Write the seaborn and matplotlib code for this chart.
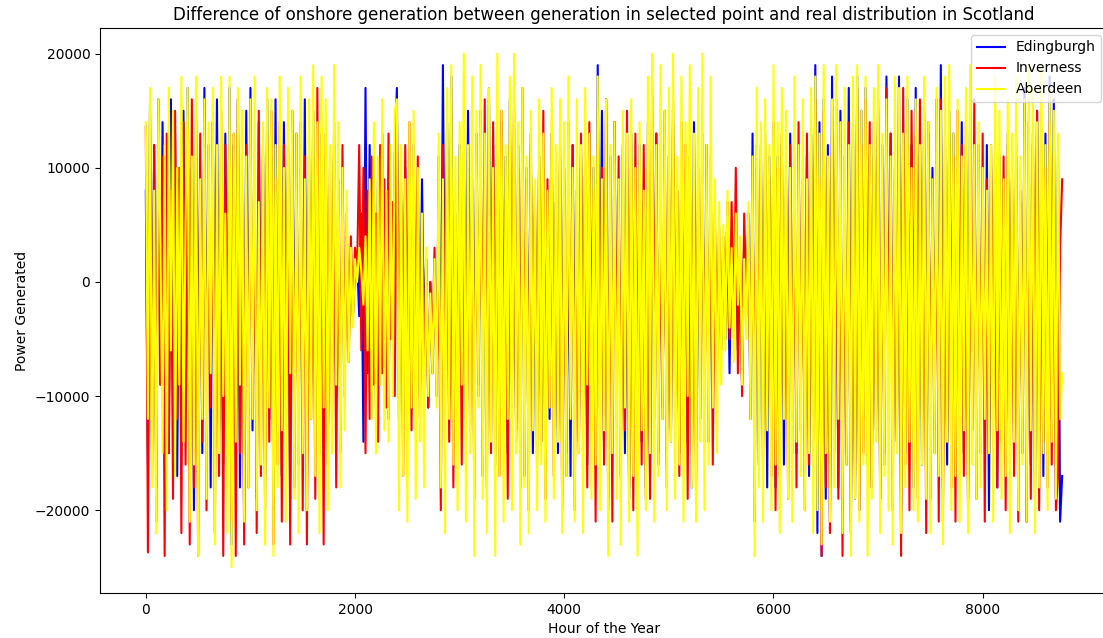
import numpy as np
import pandas as pd
import matplotlib
matplotlib.use("Agg")
import matplotlib.pyplot as plt
import seaborn as sns

# Hour of the year sampled every 20 h (0 .. 8760)
hours = list(range(0, 8761, 20))

# Values in thousands of units
aberdeen_k = [
    14, -12, 17, -18, 8, -22, 16, 3, -15, 12, -20, 17, -6, 15, -17, 10, -9, 18, -14, 5,
    17, -21, 11, -16, 18, -24, 9, -12, 16, -19, 14, -8, 17, -23, 12, -15, 18, -10, 6, -22,
    18, -25, 13, -14, 17, -9, 15, -21, 11, -18, 16, -12, 18, -20, 7, -16, 14, -23, 17, -11,
    16, -24, 12, -18, 18, -13, 10, -21, 17, -8, 15, -19, 13, -22, 18, -15, 9, -20, 16, -12,
    19, -17, 14, -22, 18, -11, 16, -20, 12, -15, 19, -9, 14, -18, 10, -13, 8, -7, 3, -4,
    2, 0, 3, 1, -2, 4, -6, 9, -12, 14, -15, 11, -9, 16, -13, 8, -14, 12, -10, 15,
    16, -20, 12, -17, 9, -21, 14, -11, 15, -19, 10, -14, 6, -18, 3, -10, -1, -8, 2, -11,
    13, -18, 9, -22, 17, -12, 19, -16, 11, -20, 14, -9, 20, -21, 12, -15, 18, -24, 15, -11,
    19, -19, 13, -22, 17, -14, 10, -24, 20, -17, 15, -21, 12, -12, 18, -20, 20, -15, 14, -23,
    17, -18, 11, -22, 15, -13, 9, -20, 16, -16, 13, -21, 8, -11, 17, -19, 12, -14, 16, -22,
    14, -17, 18, -12, 10, -21, 16, -15, 12, -22, 17, -9, 13, -19, 11, -16, 18, -20, 9, -13,
    16, -24, 12, -15, 14, -19, 9, -23, 15, -11, 13, -21, 16, -17, 10, -24, 14, -13, 8, -20,
    18, -15, 20, -21, 12, -17, 19, -12, 15, -20, 17, -14, 20, -19, 11, -16, 18, -21, 14, -10,
    19, -18, 13, -21, 17, -14, 20, -20, 12, -16, 18, -11, 9, -15, 7, -9, 5, -6, 8, -4,
    3, -7, 6, -2, 4, -9, 2, -5, 7, -12, 11, -24, 17, -18, 14, -21, 16, -13, 12, -20,
    19, -16, 14, -22, 17, -12, 15, -19, 10, -21, 18, -14, 12, -17, 16, -20, 9, -15, 17, -22,
    18, -20, 13, -23, 19, -15, 11, -21, 16, -18, 19, -12, 14, -22, 17, -16, 12, -24, 18, -19,
    19, -21, 15, -16, 18, -24, 12, -19, 17, -14, 19, -22, 13, -17, 16, -20, 11, -23, 18, -15,
    17, -22, 13, -18, 18, -14, 10, -20, 16, -21, 12, -16, 18, -19, 14, -22, 9, -15, 17, -17,
    15, -23, 18, -14, 19, -20, 13, -17, 16, -21, 11, -13, 17, -22, 19, -16, 12, -19, 14, -18,
    10, -12, 8, -15, 12, -21, 18, -13, 15, -19, 9, -17, 16, -22, 13, -14, 18, -20, 11, -16,
    16, -21, 19, -13, 17, -22, 14, -18, 19, -15, 12, -20, 17, -14, 15, -19, 13, -12, -8,
]
inverness_k = [
    13.6, -23.7, 10, -17, 12, -21, 14, -9, 11, -24, 13, -15, 8, -19, 15, -12, 10, -22, 14, -16,
    12, -23, 16, -18, 9, -24, 13, -14, 16, -20, 8, -11, 14, -22, 10, -17, 15, -24, 12, -13,
    10, -21, 13, -24, 16, -15, 7, -23, 12, -18, 14, -10, 9, -22, 15, -17, 11, -20, 13, -14,
    15, -23, 9, -16, 14, -21, 12, -11, 10, -23, 13, -18, 8, -15, 14, -20, 11, -23, 9, -12,
    11, -19, 17, -14, 9, -23, 13, -16, 10, -12, 14, -18, 8, -15, 12, -10, 6, -7, 4, -3,
    3, 1, 12, -6, 10, -15, 8, -12, 11, -9, 6, -14, 12, -8, 9, -11, 13, -5, 7, -10,
    15, -10, 9, -17, 12, -7, 14, -13, 8, -5, 11, -12, 4, -9, 2, -11, 0, -6, 3, -9,
    3, -20, 12, -9, 10, -14, 7, -18, 5, -12, 9, -16, 11, -7, 6, -13, 8, -19, 12, -10,
    13, -10, 16, -18, 9, -15, 14, -8, 11, -17, 15, -12, 7, -19, 12, -9, 16, -14, 10, -18,
    17, -12, 10, -20, 13, -9, 8, -16, 11, -14, 15, -19, 9, -11, 13, -17, 7, -13, 12, -20,
    9, -17, 14, -11, 12, -20, 6, -15, 13, -10, 11, -18, 14, -13, 8, -21, 12, -9, 10, -16,
    16, -19, 8, -21, 14, -12, 11, -17, 6, -13, 15, -18, 10, -20, 13, -11, 7, -16, 12, -19,
    10, -19, 17, -8, 13, -16, 9, -12, 15, -18, 11, -14, 16, -10, 8, -17, 14, -13, 12, -19,
    11, -15, 8, -18, 10, -7, 13, -14, 9, -12, 11, -16, 6, -8, 5, -6, 4, -3, 7, -5,
    7, -4, 10, -8, 3, -10, 6, -2, 5, -9, 8, -14, 12, -9, 10, -16, 13, -11, 9, -17,
    14, -20, 10, -17, 13, -11, 8, -19, 12, -15, 11, -18, 14, -13, 9, -20, 13, -16, 10, -14,
    16, -14, 9, -24, 15, -18, 11, -22, 13, -10, 16, -19, 12, -24, 10, -15, 14, -21, 8, -17,
    17, -20, 12, -15, 16, -9, 14, -18, 11, -13, 15, -19, 10, -16, 17, -11, 13, -20, 9, -14,
    10, -24, 17, -16, 12, -20, 15, -8, 13, -19, 16, -12, 11, -22, 14, -17, 9, -15, 13, -21,
    16, -21, 8, -14, 13, -18, 11, -21, 15, -10, 12, -17, 14, -20, 9, -13, 16, -19, 11, -15,
    13, -21, 9, -15, 12, -11, 10, -18, 7, -14, 11, -20, 13, -12, 9, -17, 12, -21, 8, -13,
    16, -21, 11, -19, 13, -9, 15, -20, 12, -14, 10, -18, 14, -16, 11, -20, -17, 3, 9,
]
edingburgh_k = [
    8, -16, 15.6, -10, 12, -18, 16, -9, 14, -13, 11, -15, 16, -8, 13, -17, 9, -12, 15, -11,
    17, -12, 10, -20, 15, -8, 9, -15, 17, -11, 12, -18, 14, -9, 16, -13, 10, -16, 13, -10,
    17, -23, 12, -14, 16, -18, 8, -21, 15, -10, 17, -13, 11, -19, 14, -9, 12, -17, 16, -12,
    11, -20, 16, -13, 9, -17, 14, -11, 12, -19, 15, -10, 13, -16, 10, -12, 16, -18, 11, -9,
    15, -11, 8, -15, 13, -9, 11, -14, 5, -7, 12, -10, 9, -13, 7, -8, 4, -5, 2, -3,
    1, 2, -3, 6, -14, 17, -8, 12, -6, 9, -11, 10, -7, 13, -9, 6, -12, 8, -5, 11,
    17, -12, 7, -9, 10, -6, 3, -11, 12, -8, 6, -10, 9, -5, 2, -11, 0, -8, 1, -10,
    11, -12, 19, -7, 14, -10, 18, -9, 6, -11, 12, -8, 10, -12, 15, -6, 9, -10, 13, -9,
    15, -17, 10, -13, 17, -8, 12, -16, 7, -12, 14, -10, 11, -15, 16, -9, 8, -13, 12, -11,
    13, -17, 9, -11, 12, -15, 6, -10, 11, -14, 10, -16, 8, -12, 13, -9, 7, -15, 11, -10,
    10, -15, 7, -17, 12, -9, 8, -14, 11, -11, 9, -16, 13, -8, 10, -13, 19, -11, 15, -14,
    16, -20, 11, -13, 14, -9, 8, -17, 12, -15, 10, -19, 13, -11, 9, -16, 12, -14, 7, -18,
    14, -17, 10, -12, 13, -15, 9, -11, 12, -16, 11, -13, 14, -10, 8, -15, 12, -12, 10, -14,
    11, -18, 14, -10, 7, -12, 10, -9, 12, -14, 8, -11, 4, -7, 2, -6, 3, -5, 5, -8,
    3, -2, 5, -6, 1, -9, 4, -3, 6, -12, 13, -21, 10, -16, 12, -14, 9, -18, 11, -13,
    14, -18, 11, -13, 12, -16, 9, -10, 13, -12, 10, -15, 12, -11, 8, -14, 11, -17, 13, -12,
    19, -22, 14, -24, 16, -19, 12, -21, 18, -15, 13, -18, 15, -20, 11, -16, 17, -22, 14, -19,
    18, -20, 15, -12, 17, -16, 11, -18, 14, -13, 16, -19, 12, -15, 18, -11, 13, -17, 10, -14,
    18, -20, 13, -15, 16, -11, 12, -18, 17, -14, 11, -16, 15, -12, 13, -19, 10, -13, 16, -15,
    19, -18, 12, -16, 15, -10, 13, -17, 10, -12, 14, -15, 11, -19, 16, -13, 9, -14, 12, -11,
    6, -12, 12, -20, 10, -9, 5, -18, 11, -13, 8, -16, 12, -10, 9, -14, 11, -12, 7, -15,
    17, -21, 14, -16, 12, -19, 15, -13, 10, -17, 13, -15, 18, -12, 16, -19, 11, -21, -17,
]

series_names = ["Edingburgh", "Inverness", "Aberdeen"]
series_colors = ["blue", "red", "yellow"]
series_values = {
    "Edingburgh": edingburgh_k,
    "Inverness": inverness_k,
    "Aberdeen": aberdeen_k,
}

fig = plt.figure(figsize=(11.03, 6.38), dpi=100)
ax = fig.add_axes([100 / 1103, 1 - 593 / 638, 1008 / 1103, (593 - 28) / 638])

for name, color in zip(series_names, series_colors):
    vals = series_values[name]
    n = min(len(vals), len(hours))
    df = pd.DataFrame({"hour": hours[:n], "power": np.array(vals[:n]) * 1000.0})
    sns.lineplot(data=df, x="hour", y="power", color=color, label=name,
                 estimator=None, linewidth=1.5, ax=ax)

ax.set_title("Difference of onshore generation between generation in selected point and real distribution in Scotland")
ax.set_xlabel("Hour of the Year")
ax.set_ylabel("Power Generated")
ax.legend(loc="upper right")
fig.savefig("out.png", dpi=100)
